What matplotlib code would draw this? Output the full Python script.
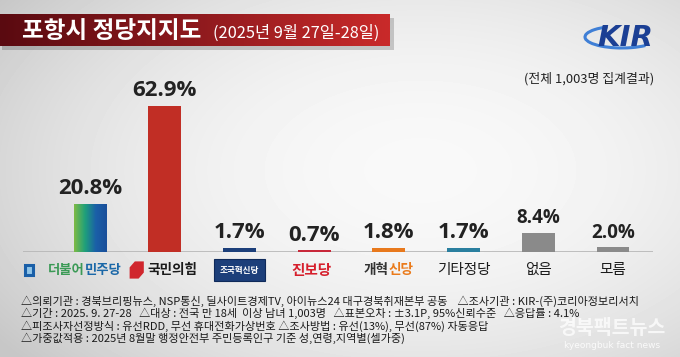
import numpy as np
import matplotlib
matplotlib.use('Agg')
import matplotlib.pyplot as plt
from matplotlib.patches import Rectangle, Polygon, Arc
from matplotlib.colors import LinearSegmentedColormap

plt.rcParams['font.family'] = ['Noto Sans CJK KR', 'DejaVu Sans']

# data
parties = ['더불어민주당', '국민의힘', '조국혁신당', '진보당', '개혁신당', '기타정당', '없음', '모름']
support = [20.8, 62.9, 1.7, 0.7, 1.8, 1.7, 8.4, 2.0]
bar_colors = ['#1a5fa8', '#c12e25', '#1c3f7a', '#c8283a', '#e8791d', '#2a7f9f', '#8a8a8a', '#8a8a8a']
title = '포항시 정당지지도'
subtitle = '(2025년 9월 27일-28일)'
sample_note = '(전체 1,003명 집계결과)'
footer = [
    '△의뢰기관 : 경북브리핑뉴스, NSP통신, 딜사이트경제TV, 아이뉴스24 대구경북취재본부 공동    △조사기관 : KIR-(주)코리아정보리서치',
    '△기간 : 2025. 9. 27-28   △대상 : 전국 만 18세  이상 남녀 1,003명   △표본오차 : ±3.1P, 95%신뢰수준   △응답률 : 4.1%',
    '△피조사자선정방식 : 유선RDD, 무선 휴대전화가상번호 △조사방법 : 유선(13%), 무선(87%) 자동응답',
    '△가중값적용 : 2025년 8월말 행정안전부 주민등록인구 기준 성,연령,지역별(셀가중)',
]

W, H = 680, 357
fig = plt.figure(figsize=(W / 100, H / 100), dpi=100)

# background: light radial gradient
bg = fig.add_axes([0, 0, 1, 1])
yy, xx = np.mgrid[0:H, 0:W]
r = ((xx - 420) / 520.0) ** 2 + ((yy - 170) / 300.0) ** 2
shade = np.clip(0.975 - 0.2 * r, 0.78, 1)
bg.imshow(shade, cmap='gray', vmin=0, vmax=1, aspect='auto', extent=[0, W, H, 0])
bg.set_xlim(0, W)
bg.set_ylim(H, 0)
bg.axis('off')

# title banner with shadow
bg.add_patch(Rectangle((2, 18), 392, 32, color='#000000', alpha=0.18, lw=0))
ban = fig.add_axes([0, 1 - 46 / H, 390 / W, 32 / H])
red_cmap = LinearSegmentedColormap.from_list('ban', ['#5a0a10', '#8e1a1e', '#c92a2a'])
ban.imshow(np.linspace(0, 1, 200).reshape(1, -1), cmap=red_cmap, aspect='auto')
ban.axis('off')
fig.text(22 / W, 1 - 31 / H, title, color='white', fontsize=17, fontweight='bold', va='center')
fig.text(213 / W, 1 - 33 / H, subtitle, color='white', fontsize=11.8, va='center')

# KIR logo
bg.add_patch(Arc((622, 37), 74, 22, theta1=20, theta2=215, color='#3f7fd6', lw=2.2))
fig.text(625 / W, 1 - 38 / H, 'KIR', color='#1b3f94', fontsize=21, fontweight='bold',
         fontstyle='italic', family='DejaVu Sans', ha='center', va='center')

fig.text(654 / W, 1 - 79 / H, sample_note, color='#222222', fontsize=9.3, ha='right', va='center')

# bars
ax = fig.add_axes([23 / W, (H - 252) / H, 630 / W, 172 / H])
ax.set_xlim(-0.897, 7.535)
ax.set_ylim(0, 172 / 2.32)
ax.axis('off')
x = np.arange(len(parties))
bars = ax.bar(x, support, width=0.44, color=bar_colors, zorder=2)
ax.axhline(0, color='#b5b5b5', lw=1.2, zorder=1)

# green->blue gradient on the first bar
b0 = bars[0]
grad = LinearSegmentedColormap.from_list('dem', ['#7dba45', '#1fa07a', '#1a5fa8', '#1a4f9a'])
im = ax.imshow(np.linspace(0, 1, 100).reshape(1, -1), cmap=grad, aspect='auto', zorder=3,
               extent=[b0.get_x(), b0.get_x() + b0.get_width(), 0, b0.get_height()])
im.set_clip_path(b0)
ax.set_xlim(-0.897, 7.535)
ax.set_ylim(0, 172 / 2.32)

for xi, v in zip(x, support):
    fs = 13.5 if xi >= 6 else 16
    ax.annotate(f'{v:.1f}%', (xi, v), xytext=(0, 7), textcoords='offset points',
                ha='center', va='baseline', fontsize=fs, fontweight='bold', color='#222222',
                family=['Open Sans', 'Noto Sans CJK KR'])

# category labels (party logos imitated with text)
tr = ax.get_xaxis_transform()
ly = -(270 - 252) / 172
# 더불어민주당
ax.add_patch(Rectangle((0 - 0.87, ly - 0.03), 0.11, 0.06, transform=tr, clip_on=False,
                       fc='#8fc4e8', ec='#1a5fa8', lw=2.2))
ax.text(-0.07, ly, '더불어', transform=tr, ha='right', va='center', fontsize=9.6,
        fontweight='bold', color='#3b9a56')
ax.text(-0.07, ly, '민주당', transform=tr, ha='left', va='center', fontsize=9.6,
        fontweight='bold', color='#1b68a8')
# 국민의힘
ax.add_patch(Polygon([(1 - 0.47, ly - 0.045), (1 - 0.47, ly + 0.015), (1 - 0.40, ly + 0.05),
                      (1 - 0.28, ly + 0.05), (1 - 0.28, ly - 0.015), (1 - 0.35, ly - 0.05),
                      (1 - 0.47, ly - 0.05)],
                     transform=tr, clip_on=False, fc='#d0262d', ec='none'))
ax.text(1 + 0.10, ly, parties[1], transform=tr, ha='center', va='center', fontsize=9.8,
        fontweight='bold', color='#1a1a1a')
# 조국혁신당
ax.text(2, ly, parties[2], transform=tr, ha='center', va='center', fontsize=6.2,
        fontweight='bold', color='white',
        bbox=dict(boxstyle='square,pad=0.7', fc='#1c3f7a', ec='#0f2a5a', lw=0.8))
# 진보당
ax.text(3 - 0.03, ly, parties[3], transform=tr, ha='center', va='center', fontsize=10.5,
        fontweight='heavy', color='#d61f2c')
# 개혁신당
ax.text(4.0, ly, '개혁', transform=tr, ha='right', va='center', fontsize=9.8,
        fontweight='heavy', color='#333333')
ax.text(4.0, ly, '신당', transform=tr, ha='left', va='center', fontsize=9.8,
        fontweight='heavy', color='#ea7a1a')
# others
for xi in range(5, len(parties)):
    ax.text(xi, ly, parties[xi], transform=tr, ha='center', va='center', fontsize=10.5,
            color='#1a1a1a')

# footer notes
for i, line in enumerate(footer):
    fig.text(21 / W, 1 - (301 + 12.4 * i) / H, line, fontsize=8.0, color='#1a1a1a', va='center')

# watermark of the news site (kept clear of the notes)
fig.text(612 / W, 1 - 328 / H, '경북팩트뉴스', fontsize=14, fontweight='bold', color='white',
         alpha=0.75, ha='center', va='center')
fig.text(612 / W, 1 - 345 / H, 'kyeongbuk fact news', fontsize=6.5, color='white', alpha=0.85,
         ha='center', va='center', family='DejaVu Sans')

fig.savefig('out.png', dpi=100)
